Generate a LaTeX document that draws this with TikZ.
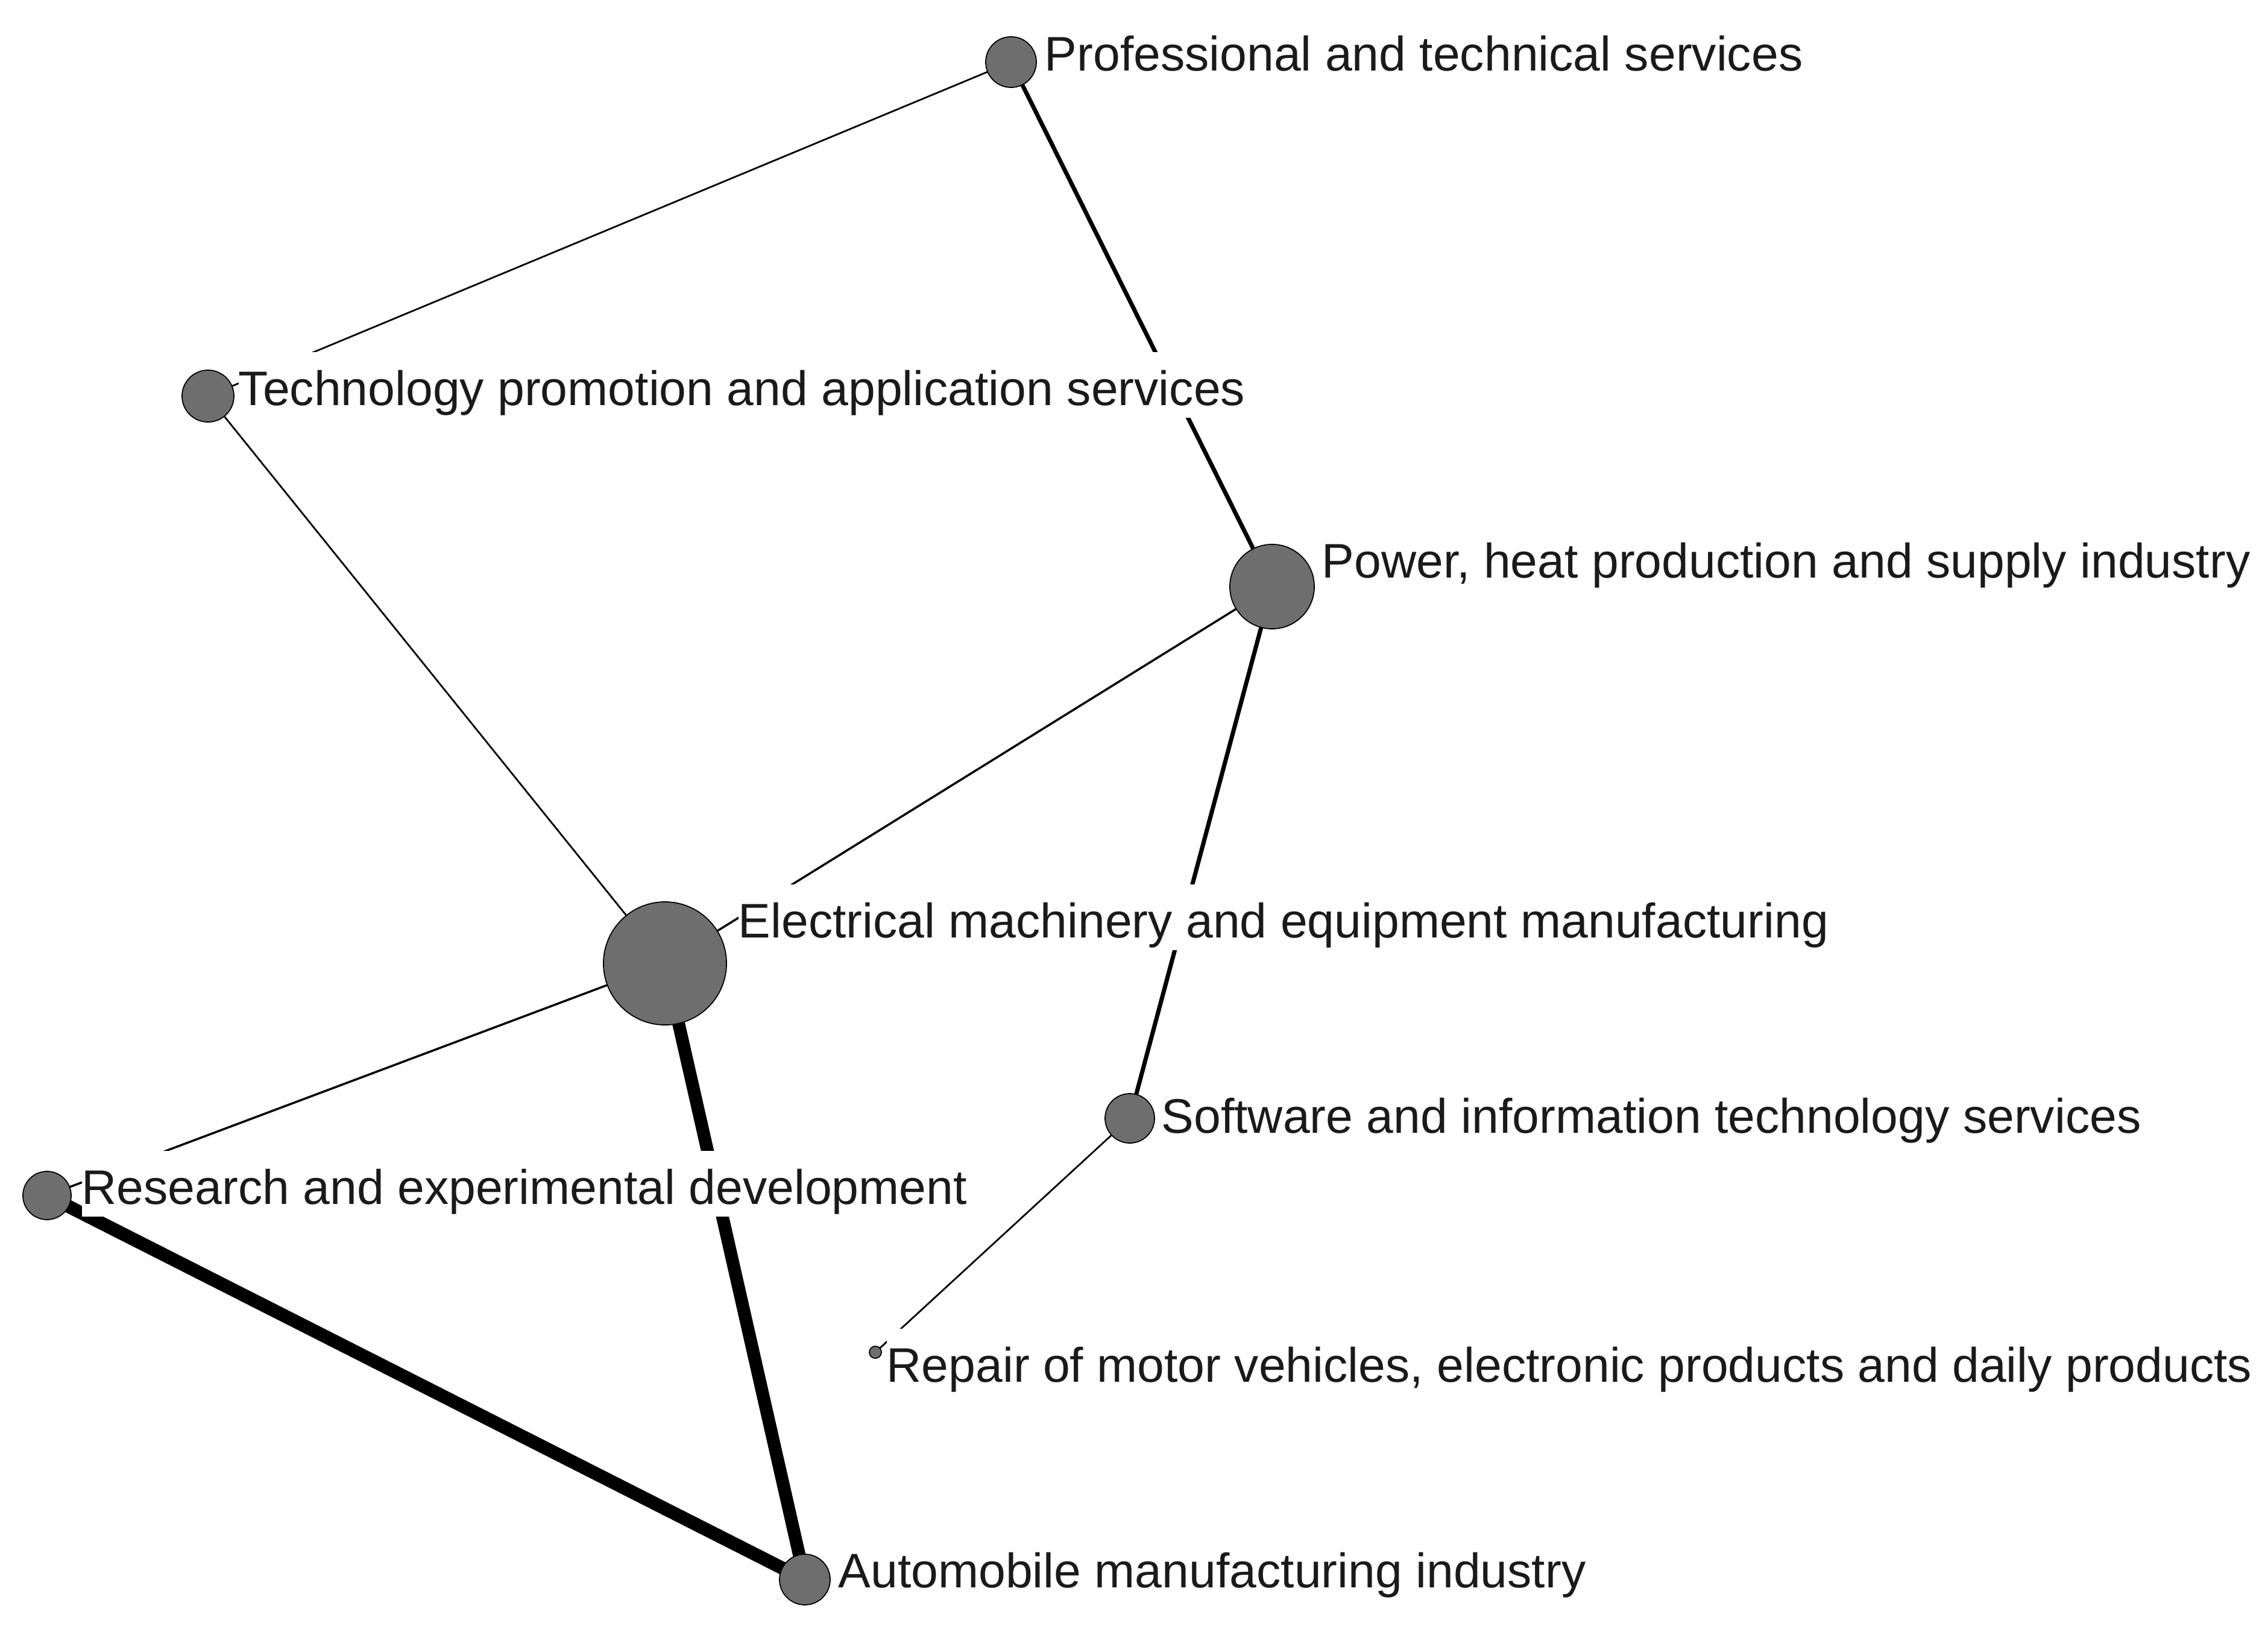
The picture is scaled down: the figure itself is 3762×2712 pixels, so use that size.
\documentclass[tikz,border=0pt]{standalone}
\usepackage{fontspec}
\setmainfont{Liberation Sans}
\usetikzlibrary{backgrounds}
\definecolor{nodegray}{HTML}{6E6E6E}
\definecolor{txt}{HTML}{1A1A1A}
\begin{document}
\begin{tikzpicture}[x=0.01cm,y=-0.01cm,
  vert/.style={circle,draw=black,line width=0.5pt,fill=nodegray,inner sep=0pt},
  lbl/.style={anchor=base west,fill=white,inner xsep=0pt,inner ysep=0pt,
    text height=25pt,text depth=6pt,font=\fontsize{22.9}{27}\selectfont,text=txt},
  ewA/.style={line width=0.8pt},
  ewB/.style={line width=1.0pt},
  ewC/.style={line width=2.0pt},
  ewD/.style={line width=6pt},
  ewE/.style={line width=6.2pt}]
\useasboundingbox (0,0) rectangle (3762,2712);
% vertices
\node[vert,minimum size=0.84cm] (prof) at (1677,103) {};
\node[vert,minimum size=0.86cm] (tech) at (345,657) {};
\node[vert,minimum size=1.40cm] (pow) at (2110,973) {};
\node[vert,minimum size=2.04cm] (elec) at (1103,1598) {};
\node[vert,minimum size=0.82cm] (soft) at (1874,1855) {};
\node[vert,minimum size=0.80cm] (res) at (78,1983) {};
\node[vert,minimum size=0.20cm] (rep) at (1452,2243) {};
\node[vert,minimum size=0.84cm] (auto) at (1335,2620) {};
% labels
\node[lbl] (lprof) at (1732,118) {Professional and technical services};
\node[lbl] (ltech) at (395,672) {Technology promotion and application services};
\node[lbl] (lpow) at (2192,958) {Power, heat production and supply industry};
\node[lbl] (lelec) at (1224,1555) {Electrical machinery and equipment manufacturing};
\node[lbl] (lsoft) at (1926,1879) {Software and information technology services};
\node[lbl] (lres) at (135,1997) {Research and experimental development};
\node[lbl] (lrep) at (1470,2292) {Repair of motor vehicles, electronic products and daily products};
\node[lbl] (lauto) at (1390,2633) {Automobile manufacturing industry};
% edges
\begin{scope}[on background layer]
\fill[white] (0,0) rectangle (3762,2712);
\draw[ewA] (prof.center) -- (tech.center);
\draw[ewC] (prof.center) -- (pow.center);
\draw[ewA] (tech.center) -- (elec.center);
\draw[ewB] (pow.center) -- (elec.center);
\draw[ewC] (pow.center) -- (soft.center);
\draw[ewB] (elec.center) -- (res.center);
\draw[ewD] (elec.center) -- (auto.center);
\draw[ewE] (res.center) -- (auto.center);
\draw[ewA] (soft.center) -- (rep.center);
\end{scope}
\end{tikzpicture}
\end{document}
